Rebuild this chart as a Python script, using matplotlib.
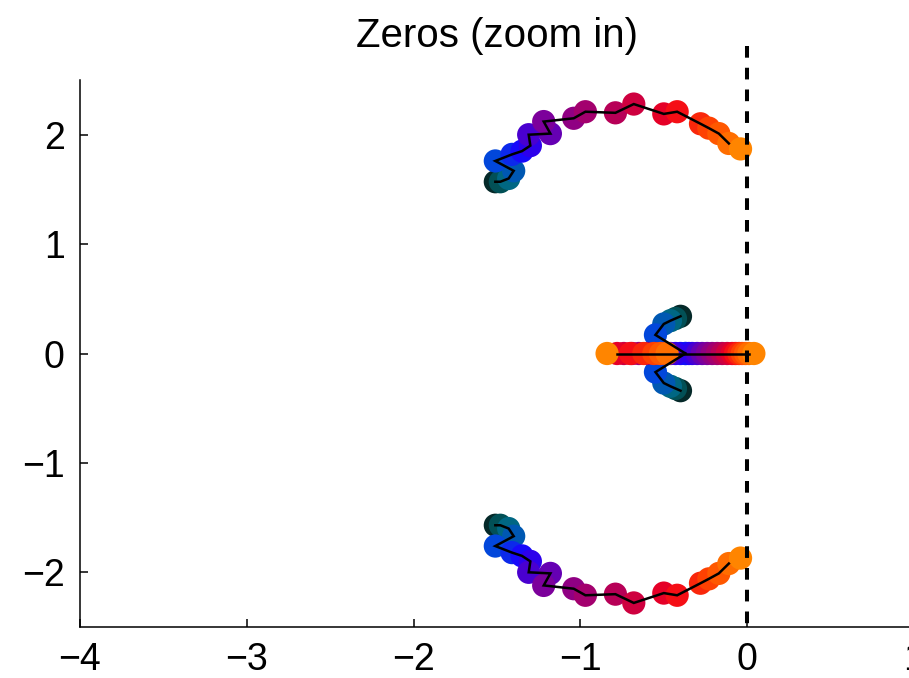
import numpy as np
import matplotlib
matplotlib.use("Agg")
import matplotlib.pyplot as plt
from matplotlib.colors import LinearSegmentedColormap

plt.rcParams['font.family'] = ['Liberation Sans', 'DejaVu Sans']

# Zero trajectories over 22 parameter steps (step 0 = dark teal, step 21 = orange)
n_steps = 22

# Upper complex branch (steps 0..21)
upper_x = [-1.51, -1.48, -1.43, -1.40, -1.51, -1.41, -1.35, -1.30, -1.31, -1.18, -1.22,
           -1.04, -0.97, -0.79, -0.68, -0.50, -0.42, -0.28, -0.23, -0.17, -0.11, -0.04]
upper_y = [1.57, 1.57, 1.60, 1.67, 1.76, 1.82, 1.85, 1.90, 2.00, 2.01, 2.12,
           2.15, 2.21, 2.20, 2.28, 2.19, 2.21, 2.10, 2.06, 2.01, 1.92, 1.87]

# Lower complex branch (conjugates, steps 0..21)
lower_x = [-1.51, -1.48, -1.43, -1.40, -1.51, -1.41, -1.35, -1.30, -1.31, -1.18, -1.22,
           -1.04, -0.97, -0.79, -0.68, -0.50, -0.42, -0.28, -0.23, -0.17, -0.11, -0.04]
lower_y = [-1.57, -1.57, -1.60, -1.67, -1.76, -1.82, -1.85, -1.90, -2.00, -2.01, -2.12,
           -2.15, -2.21, -2.20, -2.28, -2.19, -2.21, -2.10, -2.06, -2.01, -1.92, -1.87]

# Inner complex pair before it reaches the real axis (steps 0..4)
inner_steps = [0, 1, 2, 3, 4]
inner_up_x = [-0.40, -0.43, -0.46, -0.50, -0.55]
inner_up_y = [0.34, 0.32, 0.30, 0.27, 0.17]
inner_lo_x = [-0.40, -0.43, -0.46, -0.50, -0.55]
inner_lo_y = [-0.34, -0.32, -0.30, -0.27, -0.17]

# Real zeros after the pair splits (steps 5..21)
real_steps = list(range(5, 22))
real_left_x = [-0.37, -0.40, -0.43, -0.46, -0.50, -0.55, -0.60, -0.65, -0.69,
               -0.74, -0.78, -0.70, -0.62, -0.56, -0.52, -0.48, -0.84]
real_right_x = [-0.37, -0.35, -0.33, -0.30, -0.27, -0.24, -0.21, -0.18, -0.15,
                -0.12, -0.09, -0.07, -0.05, -0.03, -0.01, 0.01, 0.04]
real_y = [0.0] * len(real_steps)

x_ticks = [-4, -3, -2, -1, 0, 1]
y_ticks = [-2, -1, 0, 1, 2]

cmap = LinearSegmentedColormap.from_list("steps", [
    (0.00, (0.02, 0.16, 0.16)),
    (0.08, (0.00, 0.42, 0.46)),
    (0.18, (0.00, 0.30, 0.85)),
    (0.30, (0.10, 0.00, 1.00)),
    (0.45, (0.45, 0.00, 0.65)),
    (0.60, (0.68, 0.00, 0.38)),
    (0.74, (0.95, 0.00, 0.10)),
    (0.87, (1.00, 0.28, 0.00)),
    (1.00, (1.00, 0.52, 0.00)),
])

fig = plt.figure(figsize=(9.09, 6.78), dpi=100)
ax = fig.add_axes([80 / 909, 1 - 627 / 678, 834 / 909, 547 / 678])

# Gather every marker with its step so later steps are drawn on top
all_x, all_y, all_s = [], [], []
def add(xs, ys, steps):
    all_x.extend(xs); all_y.extend(ys); all_s.extend(steps)

add(upper_x, upper_y, range(n_steps))
add(lower_x, lower_y, range(n_steps))
add(inner_up_x, inner_up_y, inner_steps)
add(inner_lo_x, inner_lo_y, inner_steps)
add(real_left_x, real_y, real_steps)
add(real_right_x, real_y, real_steps)

all_x = np.array(all_x); all_y = np.array(all_y); all_s = np.array(all_s)
order = np.argsort(all_s, kind="stable")
colors = cmap(all_s[order] / (n_steps - 1))
ax.scatter(all_x[order], all_y[order], s=280, c=colors, edgecolors='none', zorder=2)

# Trails connecting successive steps (up to the step before the last)
line_kw = dict(color='black', lw=1.8, zorder=3, solid_joinstyle='miter')
ax.plot(upper_x[:-1], upper_y[:-1], **line_kw)
ax.plot(lower_x[:-1], lower_y[:-1], **line_kw)
ax.plot(inner_up_x + [real_left_x[0]], inner_up_y + [0.0], **line_kw)
ax.plot(inner_lo_x + [real_left_x[0]], inner_lo_y + [0.0], **line_kw)
ax.plot([min(real_left_x[:-1]), max(real_right_x[:-1])], [0, 0], **line_kw)

# Imaginary axis marker
ax.plot([0, 0], [2.81, -2.5], color='black', lw=2.9, dashes=(2.9, 2.5),
        zorder=4, clip_on=False)

ax.set_xlim(-4, 1)
ax.set_ylim(-2.5, 2.5)
ax.set_xticks(x_ticks)
ax.set_yticks(y_ticks)
ax.spines['top'].set_visible(False)
ax.spines['right'].set_visible(False)
for sp in ('left', 'bottom'):
    ax.spines[sp].set_linewidth(1.1)
ax.tick_params(direction='in', length=6, width=1.1, labelsize=27, pad=11)
ax.set_title("Zeros (zoom in)", fontsize=29, pad=24)

fig.savefig("out.png", dpi=100)
